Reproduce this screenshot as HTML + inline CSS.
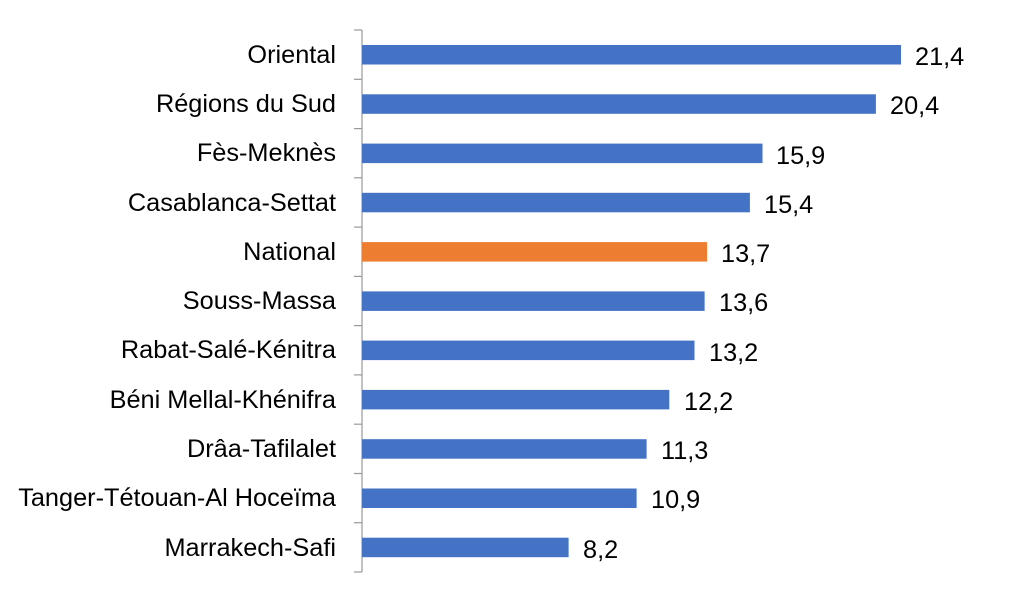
<html><body style="margin:0;background:#fff">
<svg width="1024" height="603" xmlns="http://www.w3.org/2000/svg" font-family="Liberation Sans, sans-serif" font-size="25.3">
<g stroke="#999" stroke-width="1.2" fill="none">
<line x1="362" y1="30" x2="362" y2="572"/>
<line x1="354" y1="30" x2="362" y2="30"/><line x1="354" y1="79.3" x2="362" y2="79.3"/><line x1="354" y1="128.6" x2="362" y2="128.6"/><line x1="354" y1="177.8" x2="362" y2="177.8"/><line x1="354" y1="227.1" x2="362" y2="227.1"/><line x1="354" y1="276.4" x2="362" y2="276.4"/><line x1="354" y1="325.6" x2="362" y2="325.6"/><line x1="354" y1="374.9" x2="362" y2="374.9"/><line x1="354" y1="424.2" x2="362" y2="424.2"/><line x1="354" y1="473.5" x2="362" y2="473.5"/><line x1="354" y1="522.7" x2="362" y2="522.7"/><line x1="354" y1="572" x2="362" y2="572"/>
</g>
<g fill="#4472C4">
<rect x="362" y="45" width="539" height="19.5"/>
<rect x="362" y="94.3" width="513.9" height="19.5"/>
<rect x="362" y="143.6" width="400.5" height="19.5"/>
<rect x="362" y="192.8" width="387.9" height="19.5"/>
<rect x="362" y="242.1" width="345.1" height="19.5" fill="#ED7D31"/>
<rect x="362" y="291.4" width="342.6" height="19.5"/>
<rect x="362" y="340.6" width="332.5" height="19.5"/>
<rect x="362" y="389.9" width="307.3" height="19.5"/>
<rect x="362" y="439.2" width="284.6" height="19.5"/>
<rect x="362" y="488.5" width="274.6" height="19.5"/>
<rect x="362" y="537.7" width="206.6" height="19.5"/>
</g>
<g text-anchor="end" fill="#000">
<text x="336" y="63">Oriental</text>
<text x="336" y="112">Régions du Sud</text>
<text x="336" y="161">Fès-Meknès</text>
<text x="336" y="211">Casablanca-Settat</text>
<text x="336" y="260">National</text>
<text x="336" y="309">Souss-Massa</text>
<text x="336" y="358">Rabat-Salé-Kénitra</text>
<text x="336" y="408">Béni Mellal-Khénifra</text>
<text x="336" y="457">Drâa-Tafilalet</text>
<text x="336" y="506">Tanger-Tétouan-Al Hoceïma</text>
<text x="336" y="556">Marrakech-Safi</text>
</g>
<g fill="#000">
<text x="915" y="65">21,4</text>
<text x="890" y="114">20,4</text>
<text x="776" y="164">15,9</text>
<text x="764" y="213">15,4</text>
<text x="721" y="262">13,7</text>
<text x="719" y="311">13,6</text>
<text x="709" y="361">13,2</text>
<text x="684" y="410">12,2</text>
<text x="661" y="459">11,3</text>
<text x="651" y="508">10,9</text>
<text x="583" y="558">8,2</text>
</g>
</svg>
</body></html>
